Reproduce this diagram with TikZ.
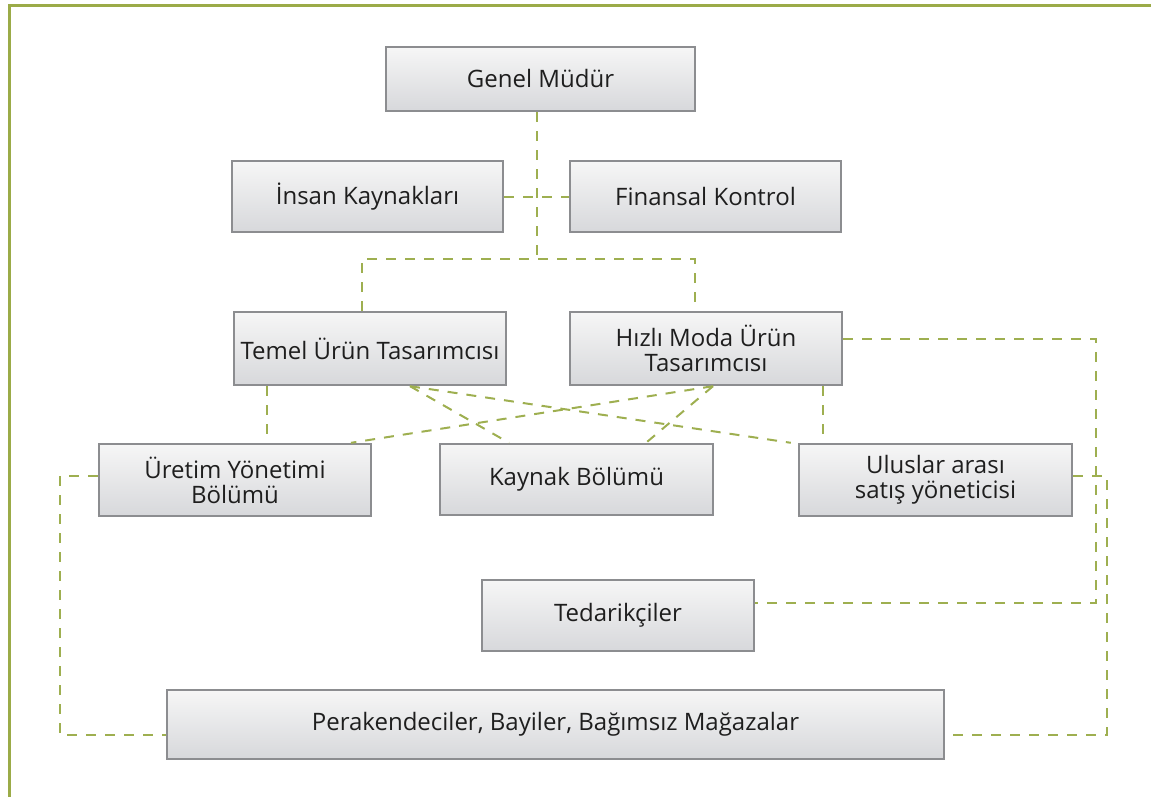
\documentclass[tikz,border=0pt]{standalone}
\usepackage{fontspec}
\setmainfont{Open Sans}
\usetikzlibrary{calc}
\definecolor{framegreen}{RGB}{155,171,72}
\definecolor{linkgreen}{RGB}{158,175,80}
\definecolor{boxedge}{RGB}{140,141,144}
\definecolor{boxtop}{RGB}{246,246,246}
\definecolor{boxbottom}{RGB}{215,216,219}
\definecolor{textgray}{RGB}{30,30,30}
\tikzset{
  orgbox/.style={draw=boxedge, line width=2.4pt, top color=boxtop, bottom color=boxbottom,
    minimum width=272pt, minimum height=72pt, inner sep=0pt, align=center,
    text=textgray, font=\fontsize{24}{25}\selectfont},
  link/.style={draw=linkgreen, line width=2pt, dash pattern=on 10pt off 9pt},
}
\begin{document}
\begin{tikzpicture}[x=1pt,y=-1pt]
\useasboundingbox (0,0) rectangle (1151,797);
% outer frame (top and left edges only)
\draw[framegreen, line width=3pt] (1151,6) -- (9,6) -- (9,797);

% boxes
\node[orgbox, minimum width=309pt, minimum height=64pt] (gm) at (540.5,79) {Genel Müdür};
\node[orgbox, minimum width=271pt, minimum height=71pt] (ik) at (367.5,196.5) {İnsan Kaynakları};
\node[orgbox, minimum width=271pt, minimum height=71pt] (fk) at (705.5,196.5) {Finansal Kontrol};
\node[orgbox, minimum height=73pt] (tu) at (370,348.5) {Temel Ürün Tasarımcısı};
\node[orgbox, minimum height=73pt] (hm) at (706,348.5) {Hızlı Moda Ürün\\Tasarımcısı};
\node[orgbox] (uy) at (235,480) {Üretim Yönetimi\\Bölümü};
\node[orgbox, minimum width=273pt, minimum height=71pt] (kb) at (576.5,479.5) {Kaynak Bölümü};
\node[orgbox, minimum width=273pt] (ul) at (935.5,480) {Uluslar arası\\satış yöneticisi};
\node[orgbox, minimum height=71pt] (td) at (618,615.5) {Tedarikçiler};
\node[orgbox, minimum width=777pt, minimum height=69pt] (pr) at (555.5,724.5) {Perakendeciler, Bayiler, Bağımsız Mağazalar};

% bend points of the connectors
\coordinate (bus) at (537,259);
\coordinate (rtop) at (1096,603);
\coordinate (rbot) at (1107,735);
\coordinate (lbot) at (60,735);
\coordinate (tuv) at ([xshift=-103pt]tu.south);
\coordinate (tud) at ([xshift=40pt]tu.south);
\coordinate (hmd) at ([xshift=7pt]hm.south);
\coordinate (hmv) at ([xshift=117pt]hm.south);

% connectors
\draw[link] ([xshift=-3.5pt]gm.south) -- (bus);
\draw[link] ([xshift=-8pt]tu.north) |- (bus) -| ([xshift=-11pt]hm.north);
\draw[link] (ik.east) -- (fk.west);
\draw[link] (tuv) -- (tuv |- uy.north);
\draw[link] (tud) -- ([xshift=-67.5pt]kb.north);
\draw[link] (tud) -- ([xshift=-7pt]ul.north west);
\draw[link] (hmd) -- ([xshift=116pt]uy.north);
\draw[link] (hmd) -- ([xshift=69.5pt]kb.north);
\draw[link] (hmv) -- (hmv |- ul.north);
\draw[link] ([yshift=9.5pt]hm.east) -| (rtop) -- ([yshift=12.5pt]td.east);
\draw[link] ([yshift=4pt]ul.east) -| (rbot) -- ([yshift=-10.5pt]pr.east);
\draw[link] ([yshift=4pt]uy.west) -| (lbot) -- ([yshift=-10.5pt]pr.west);
\end{tikzpicture}
\end{document}
